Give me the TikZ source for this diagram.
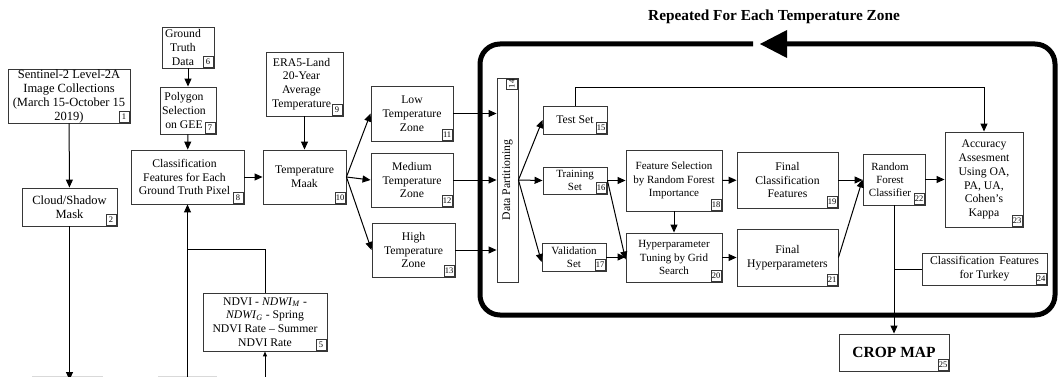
\documentclass[tikz,border=0pt]{standalone}
\usepackage{fontspec}
\setmainfont{Liberation Serif}
\usetikzlibrary{arrows.meta,fit}
\definecolor{boxc}{RGB}{55,55,55}
\tikzset{
 box/.style={draw=boxc, line width=0.9pt, inner sep=0pt},
 lbl/.style={align=center, inner sep=0pt, font=\fontsize{11.7}{13.8}\selectfont},
 small/.style={font=\fontsize{11}{13.2}\selectfont},
 big/.style={font=\fontsize{12.5}{14}\selectfont},
 num/.style={draw=boxc, line width=0.7pt, inner sep=0.8pt, minimum width=10pt, minimum height=10.5pt, font=\fontsize{8.5}{9}\selectfont, anchor=south east},
 arr/.style={draw=black, line width=1pt, -{Triangle[length=8pt,width=7pt]}},
 arrs/.style={draw=black, line width=1pt, -{Triangle[length=5pt,width=4pt]}},
 ln/.style={draw=black, line width=1pt},
}
\newcommand\mybox[9]{%
 \node[box, fit={(#2,#3)(#4,#5)}] (#1) {};
 \node[lbl,#9] (#1t) at ([xshift=#8]#1.center) {#6};
 \node[num] (#1n) at ([shift={(-1,-1)}]#1.south east) {#7};
}
\begin{document}
\begin{tikzpicture}[x=1pt,y=-1pt]
\useasboundingbox (0,0) rectangle (1060,377);
% big loop
\draw[line width=5pt, rounded corners=20pt] (753,44) -- (480,44) -- (480,315) -- (1055,315) -- (1055,44) -- (787,44);
\fill (760,44) -- (787,30) -- (787,58) -- cycle;
\node[font=\bfseries\fontsize{15.3}{18}\selectfont] (title) at (774,17) {Repeated For Each Temperature Zone};
% boxes
\mybox{b1}{8}{69}{130}{123}{Sentinel-2 Level-2A\\Image Collections\\(March 15-October 15\\2019)}{1}{0pt}{big}
\mybox{b2}{22}{188}{117}{226}{Cloud/Shadow\\Mask}{2}{0pt}{big}
\mybox{b6}{162}{27}{214}{68}{Ground\\Truth\\Data}{6}{-5pt}{}
\mybox{b7}{160}{87}{216}{134}{Polygon\\Selection\\on GEE}{7}{-4pt}{}
\mybox{b8}{131}{150}{244}{204}{Classification\\Features for Each\\Ground Truth Pixel}{8}{-3pt}{}
\mybox{b9}{266}{52}{343}{116}{ERA5-Land\\20-Year\\Average\\Temperature}{9}{-3pt}{}
\mybox{b10}{263}{150}{346}{204}{Temperature\\Maak}{10}{0pt}{}
\mybox{b11}{371}{86}{453}{141}{Low\\Temperature\\Zone}{11}{0pt}{}
\mybox{b12}{371}{153}{453}{207}{Medium\\Temperature\\Zone}{12}{0pt}{}
\mybox{b13}{372}{223}{455}{277}{High\\Temperature\\Zone}{13}{0pt}{}
\mybox{b5}{203}{293}{327}{351}{NDVI - \textit{NDWI}\textsubscript{\textit{M}} -\\\textit{NDWI}\textsubscript{\textit{G}} - Spring\\NDVI Rate – Summer\\NDVI Rate}{5}{0pt}{}
% data partitioning
\node[box, fit={(497,78)(518,282)}] (b14) {};
\node[lbl, rotate=90] (b14t) at (b14.center) {Data Partitioning};
\node[num, rotate=90] (b14n) at ([shift={(-1,1)}]b14.north east) {14};
\mybox{b15}{543}{106}{607}{134}{Test Set}{15}{0pt}{}
\mybox{b16}{543}{167}{607}{194}{Training\\Set}{16}{0pt}{small}
\mybox{b17}{542}{243}{606}{271}{Validation\\Set}{17}{0pt}{small}
\mybox{b18}{626}{150}{722}{211}{Feature Selection\\by Random Forest\\Importance}{18}{0pt}{small}
\mybox{b20}{626}{233}{722}{282}{Hyperparameter\\Tuning by Grid\\Search}{20}{0pt}{small}
\mybox{b19}{737}{152}{838}{208}{Final\\Classification\\Features}{19}{0pt}{}
\mybox{b21}{737}{229}{838}{286}{Final\\Hyperparameters}{21}{0pt}{}
\mybox{b22}{863}{154}{925}{205}{Random\\Forest\\Classifier}{22}{-4pt}{small}
\mybox{b23}{945}{132}{1023}{227}{Accuracy\\Assesment\\Using OA,\\PA, UA,\\Cohen’s\\Kappa}{23}{0pt}{}
\mybox{b24}{922}{253}{1047}{285}{Classification\, Features\\for Turkey}{24}{0pt}{}
\mybox{b25}{839}{334}{949}{371}{CROP MAP}{25}{0pt}{font=\bfseries\fontsize{15.5}{18}\selectfont}
% free ends
\coordinate (bot2) at (69.5,380);
\coordinate (bot8) at (187.5,377);
\coordinate (bot5) at (265,377);
\coordinate (j5) at (187.5,249);
\path (b23.north) ++(0,-44) coordinate (t23);
% faint tops of cut-off boxes
\draw[gray!30, line width=0.5pt] (32,376.7) -- (103,376.7);
\draw[gray!30, line width=0.5pt] (158,376.7) -- (217,376.7);
% connectors
\draw[arr] (b1) -- (b2);
\draw[arr] (b2) -- (bot2);
\draw[arr] (b6) -- (b7);
\draw[arr] (b7) -- (b8);
\draw[arr] (bot8) -- (b8.south);
\draw[ln] (b5.north) |- (j5);
\draw[arrs] (bot5) -- (b5.south);
\draw[arr] (b8) -- (b10);
\draw[arr] (b9) -- (b10);
\draw[arr] (b10.east) -- (b11.west);
\draw[arr] (b10.east) -- (b12.west);
\draw[arr] (b10.east) -- (b13.west);
\draw[arr] (b11.east) -- (b11.east -| b14.west);
\draw[arr] (b12.east) -- (b12.east -| b14.west);
\draw[arr] (b13.east) -- (b13.east -| b14.west);
\draw[arr] (b14.east) -- (b15.west);
\draw[arr] (b14.east) -- (b16.west);
\draw[arr] (b14.east) -- ([yshift=-5pt]b17.west);
\draw[arr] (b16.east) -- (b16.east -| b18.west);
\draw[arr] (b16.east) -- ([yshift=-2pt]b20.west);
\draw[arr] (b17.east) -- (b17.east -| b20.west);
\draw[arr] (b18) -- (b20);
\draw[arr] (b18) -- (b19);
\draw[arr] (b20) -- (b21);
\draw[arr] (b19.east) -- (b19.east -| b22.west);
\draw[arr] (b21.east) -- (b22.west);
\draw[arr] (b22.east) -- (b22.east -| b23.west);
\draw[arr] (b15.north) |- (t23) -- (b23.north);
\draw[arr] (b22.south) -- (b25.north);
\draw[ln] (b24.west) -- (b24.west -| b22.south);
\end{tikzpicture}
\end{document}
